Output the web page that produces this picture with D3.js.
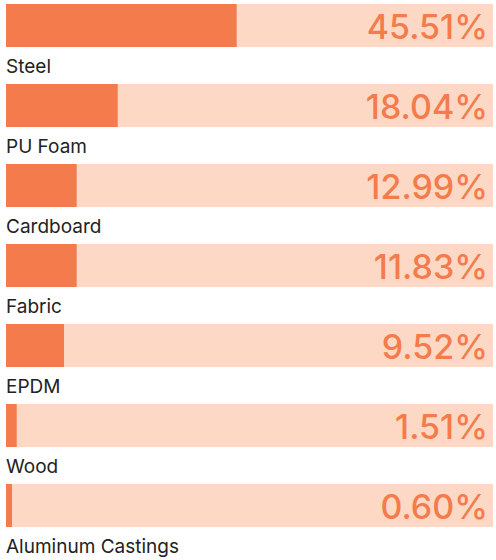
<!DOCTYPE html>
<html>
<head>
<meta charset="utf-8">
<script src="https://cdn.jsdelivr.net/npm/d3@7"></script>
<style>
  body { margin: 0; background: #fff; }
  .label { font-family: Inter, "Noto Sans", sans-serif; font-size: 19px; fill: #222; }
  .value { font-family: Inter, "Noto Sans", sans-serif; font-size: 34px; font-weight: 500; fill: #f47b4b; }
</style>
</head>
<body>
<svg id="chart"></svg>
<script>
const materials = ['Steel', 'PU Foam', 'Cardboard', 'Fabric', 'EPDM', 'Wood', 'Aluminum Castings']
const percentLabels = ['45.51%', '18.04%', '12.99%', '11.83%', '9.52%', '1.51%', '0.60%']
// filled share of each track
const barShare = [0.4737, 0.2294, 0.1452, 0.1452, 0.1191, 0.022, 0.0123]

const width = 496, height = 560
const margin = {top: 4, left: 6, right: 3}
const rowStep = 80, barH = 43

const svg = d3.select('#chart')
    .attr('width', width)
    .attr('height', height)

const trackW = width - margin.left - margin.right

const x = d3.scaleLinear()
    .domain([0, 1])
    .range([0, trackW])

const y = d3.scaleBand()
    .domain(materials)
    .range([margin.top, margin.top + rowStep * materials.length])
    .paddingInner(0)

const rows = svg.selectAll('.row')
    .data(materials)
    .join('g')
    .attr('class', 'row')
    .attr('transform', d => `translate(${margin.left},${y(d)})`)

rows.append('rect')
    .attr('width', x(1))
    .attr('height', barH)
    .attr('fill', '#fdd9c5')

rows.append('rect')
    .attr('width', (d, i) => x(barShare[i]))
    .attr('height', barH)
    .attr('fill', '#f47b4b')

rows.append('text')
    .attr('class', 'value')
    .attr('x', x(1) - 5)
    .attr('y', 34.5)
    .attr('text-anchor', 'end')
    .text((d, i) => percentLabels[i])

rows.append('text')
    .attr('class', 'label')
    .attr('x', 0)
    .attr('y', 68.5)
    .text(d => d)
</script>
</body>
</html>
